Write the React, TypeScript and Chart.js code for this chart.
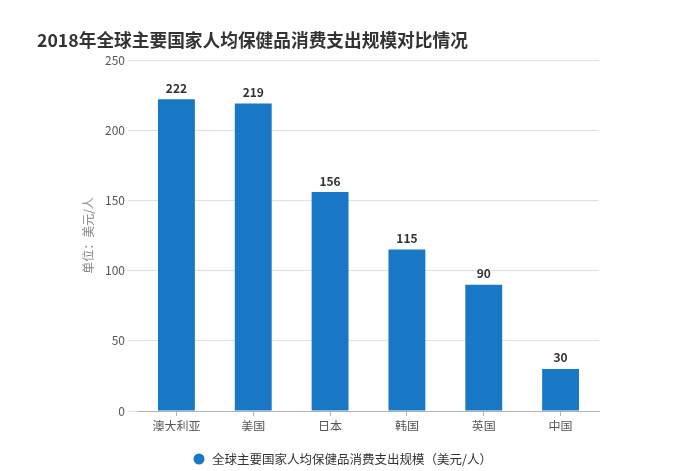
import React, { useEffect, useRef } from "react";
import { Chart, registerables } from "chart.js";

Chart.register(...registerables);

const categories = ["澳大利亚", "美国", "日本", "韩国", "英国", "中国"];
const values = [222, 219, 156, 115, 90, 30];
const seriesName = "全球主要国家人均保健品消费支出规模（美元/人）";
const titleText = "2018年全球主要国家人均保健品消费支出规模对比情况";
const yTitle = "单位：美元/人";
const FONT = "'Noto Sans CJK SC', 'Noto Sans', sans-serif";
const BAR_COLOR = "#1878c6";

export default function App() {
  const ref = useRef<HTMLCanvasElement | null>(null);
  useEffect(() => {
    if (!ref.current) return;
    const labelPlugin = {
      id: "extras",
      afterDatasetsDraw(chart: any) {
        const ctx = chart.ctx;
        const meta = chart.getDatasetMeta(0);
        ctx.save();
        ctx.font = `bold 12px ${FONT}`;
        ctx.fillStyle = "#333333";
        ctx.textAlign = "center";
        ctx.textBaseline = "bottom";
        meta.data.forEach((bar: any, i: number) => {
          ctx.fillText(String(values[i]), bar.x, bar.y - 5);
        });
        ctx.restore();
      },
      afterDraw(chart: any) {
        const ctx = chart.ctx;
        ctx.save();
        // title
        ctx.font = `bold 17.7px ${FONT}`;
        ctx.fillStyle = "#333333";
        ctx.textAlign = "left";
        ctx.textBaseline = "middle";
        ctx.fillText(titleText, 37, 40);
        // legend
        ctx.beginPath();
        ctx.arc(199, 459, 5.5, 0, Math.PI * 2);
        ctx.fillStyle = BAR_COLOR;
        ctx.fill();
        ctx.font = `12.5px ${FONT}`;
        ctx.fillStyle = "#333333";
        ctx.fillText(seriesName, 212, 459);
        ctx.restore();
      },
    };
    const chart = new Chart(ref.current, {
      type: "bar",
      data: {
        labels: categories,
        datasets: [
          {
            label: seriesName,
            data: values,
            backgroundColor: BAR_COLOR,
            borderWidth: 0,
            categoryPercentage: 1,
            barPercentage: 0.48,
          },
        ],
      },
      options: {
        animation: false,
        responsive: false,
        layout: { padding: { left: 78, top: 60, right: 74, bottom: 40 } },
        plugins: {
          legend: { display: false },
          title: { display: false },
          tooltip: { enabled: false },
        },
        scales: {
          x: {
            afterFit: (s: any) => {
              s.height = 20;
            },
            grid: {
              offset: false,
              drawOnChartArea: false,
              drawTicks: true,
              tickLength: 5,
              color: "#b0b0b0",
            },
            border: { display: true, color: "#b0b0b0" },
            ticks: {
              padding: 3,
              color: "#555555",
              font: { family: FONT, size: 12 },
            },
          },
          y: {
            min: 0,
            max: 250,
            afterFit: (s: any) => {
              s.width = 60;
            },
            grid: {
              color: "#e0e0e0",
              drawTicks: true,
              tickLength: 10,
            },
            border: { display: false },
            ticks: {
              stepSize: 50,
              padding: 3,
              color: "#555555",
              font: { family: FONT, size: 12 },
            },
            title: {
              display: true,
              text: yTitle,
              color: "#888888",
              padding: { top: 3, bottom: 0 },
              font: { family: FONT, size: 12 },
            },
          },
        },
      },
      plugins: [labelPlugin],
    });
    return () => chart.destroy();
  }, []);
  return (
    <div style={{ position: "absolute", left: 0, top: 0, width: 673, height: 471, background: "#fff" }}>
      <canvas ref={ref} width={673} height={471} />
    </div>
  );
}
